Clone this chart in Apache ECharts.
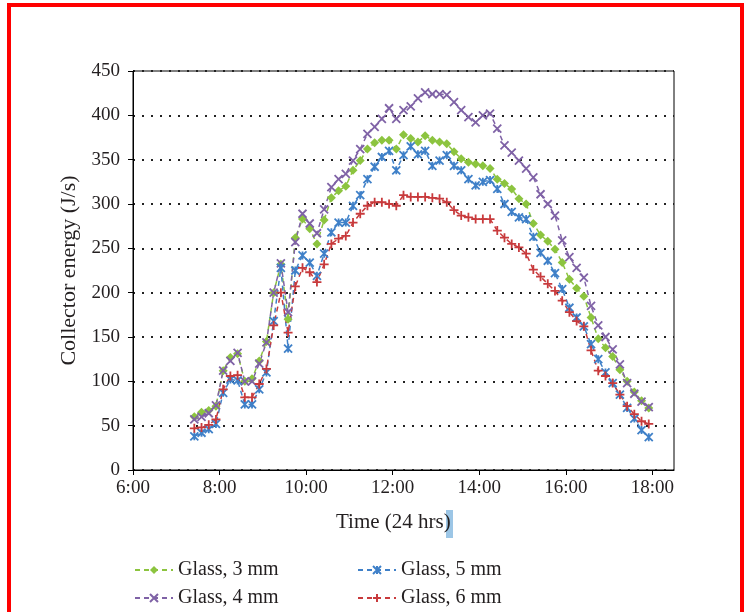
<!DOCTYPE html>
<html>
<head>
<meta charset="utf-8">
<script src="https://cdn.jsdelivr.net/npm/echarts@6/dist/echarts.min.js"></script>
<style>
html,body{margin:0;padding:0;background:#fff;}
#chart{width:744px;height:612px;}
</style>
</head>
<body>
<div id="chart"></div>
<script>
// Time of each reading (24 h clock)
const times = ['7:25','7:35','7:45','7:55','8:05','8:15','8:25','8:35','8:45','8:55','9:05','9:15','9:25','9:35','9:45','9:55',
'10:05','10:15','10:25','10:35','10:45','10:55','11:05','11:15','11:25','11:35','11:45','11:55',
'12:05','12:15','12:25','12:35','12:45','12:55','13:05','13:15','13:25','13:35','13:45','13:55',
'14:05','14:15','14:25','14:35','14:45','14:55','15:05','15:15','15:25','15:35','15:45','15:55',
'16:05','16:15','16:25','16:35','16:45','16:55','17:05','17:15','17:25','17:35','17:45','17:55'];

const glass3 = [60,65,67,72,112,127,131,100,103,123,145,200,232,170,262,283,272,255,282,307,315,320,338,349,362,369,372,372,362,378,374,370,377,372,370,368,359,351,347,345,343,340,328,323,317,306,300,278,265,258,249,234,215,205,196,172,148,138,128,113,100,88,78,70];
const glass4 = [57,60,64,73,112,123,132,100,100,120,144,200,233,178,257,289,278,267,294,319,328,334,349,362,379,387,396,408,396,406,410,419,426,424,424,423,415,406,398,392,400,402,385,366,358,349,340,330,311,300,287,259,240,228,217,185,163,150,136,119,98,86,77,71];
const glass5 = [38,42,46,52,87,102,101,74,74,91,110,168,228,137,225,242,234,219,244,268,279,279,298,310,328,342,353,360,338,355,365,356,360,343,349,355,343,338,328,321,325,327,317,300,291,285,283,263,245,236,222,204,183,172,162,142,125,110,98,85,70,58,45,37];
const glass6 = [47,48,51,57,91,106,107,82,82,97,114,163,200,155,207,228,223,212,232,255,261,264,279,289,298,302,302,300,298,310,308,308,308,307,306,302,293,287,285,283,283,283,270,262,255,251,244,226,218,210,202,191,178,168,162,135,112,106,98,85,72,63,55,52];

const seriesNames = ['Glass, 3 mm','Glass, 4 mm','Glass, 5 mm','Glass, 6 mm'];
const xTickLabels = ['6:00','8:00','10:00','12:00','14:00','16:00','18:00'];

const hours = t => { const p = t.split(':'); return +p[0] + (+p[1]) / 60; };
const tickHours = xTickLabels.map(hours);
const pairs = arr => arr.map((v, i) => [hours(times[i]), v]);

const colors = ['#8CC43F','#7F62A6','#3F80C8','#C83A3C'];
const symX = 'path://M0 0L10 10M10 0L0 10';
const symPlus = 'path://M5 0L5 10M0 5L10 5';
const symStar = 'path://M0 0L10 10M10 0L0 10M5 0L5 10';
const symbols = ['diamond', symX, symStar, symPlus];
const sizes = [9, 8, 8, 9];
const datasets = [glass3, glass4, glass5, glass6];

const FONT = '"Liberation Serif","DejaVu Serif",serif';
const TXT = '#231F20';

// legend placement: [left, top] per series
const legendPos = [[134, 560], [134, 588], [357, 560], [357, 588]];

const chart = echarts.init(document.getElementById('chart'), null, {renderer: 'canvas'});
chart.setOption({
  animation: false,
  backgroundColor: '#fff',
  grid: {left: 133, right: 70, top: 71, bottom: 142, show: true, borderColor: '#000', borderWidth: 1, backgroundColor: 'transparent'},
  xAxis: {
    type: 'value', min: 6, max: 18.5, interval: 2,
    axisLine: {lineStyle: {color: '#000', width: 1}},
    axisTick: {show: true, length: 5, lineStyle: {color: '#000'}, customValues: tickHours},
    axisLabel: {color: TXT, fontFamily: FONT, fontSize: 19, margin: 9, customValues: tickHours,
      formatter: v => { const k = tickHours.findIndex(h => Math.abs(h - v) < 1e-6); return k >= 0 ? xTickLabels[k] : ''; }},
    splitLine: {show: false}
  },
  yAxis: {
    type: 'value', min: 0, max: 450, interval: 50,
    name: 'Collector energy (J/s)', nameLocation: 'middle', nameGap: 46,
    nameTextStyle: {color: TXT, fontFamily: FONT, fontSize: 22},
    axisLine: {show: true, lineStyle: {color: '#000', width: 1}},
    axisTick: {show: true, length: 5, lineStyle: {color: '#000'}},
    axisLabel: {color: TXT, fontFamily: FONT, fontSize: 19, margin: 13},
    splitLine: {show: true, lineStyle: {color: '#222', width: 2, type: [2, 7]}}
  },
  legend: seriesNames.map((n, k) => ({
    left: legendPos[k][0], top: legendPos[k][1], orient: 'horizontal', itemWidth: 38, itemHeight: 10,
    padding: 0, data: [n], textStyle: {fontFamily: FONT, fontSize: 20, color: TXT}
  })),
  graphic: [
    {type: 'rect', left: 446, top: 510, shape: {width: 7, height: 28}, style: {fill: '#9CC6E6'}, z: 1},
    {type: 'text', left: 336, top: 512, style: {text: 'Time (24 hrs)', font: '21px "Liberation Serif", serif', fill: TXT}, z: 2},
    {type: 'rect', left: 7, top: 3, shape: {width: 737, height: 4}, style: {fill: '#FF0000'}, z: 10},
    {type: 'rect', left: 7, top: 3, shape: {width: 4, height: 612}, style: {fill: '#FF0000'}, z: 10},
    {type: 'rect', left: 740, top: 3, shape: {width: 4, height: 612}, style: {fill: '#FF0000'}, z: 10}
  ],
  series: datasets.map((d, k) => ({
    name: seriesNames[k], type: 'line', data: pairs(d),
    symbol: symbols[k], symbolSize: sizes[k], showAllSymbol: true,
    lineStyle: {color: colors[k], width: 1.5, type: [5, 4]},
    itemStyle: {color: colors[k], borderColor: colors[k], borderWidth: k === 0 ? 0 : 1.8},
    emphasis: {disabled: true}
  }))
});
</script>
</body>
</html>
